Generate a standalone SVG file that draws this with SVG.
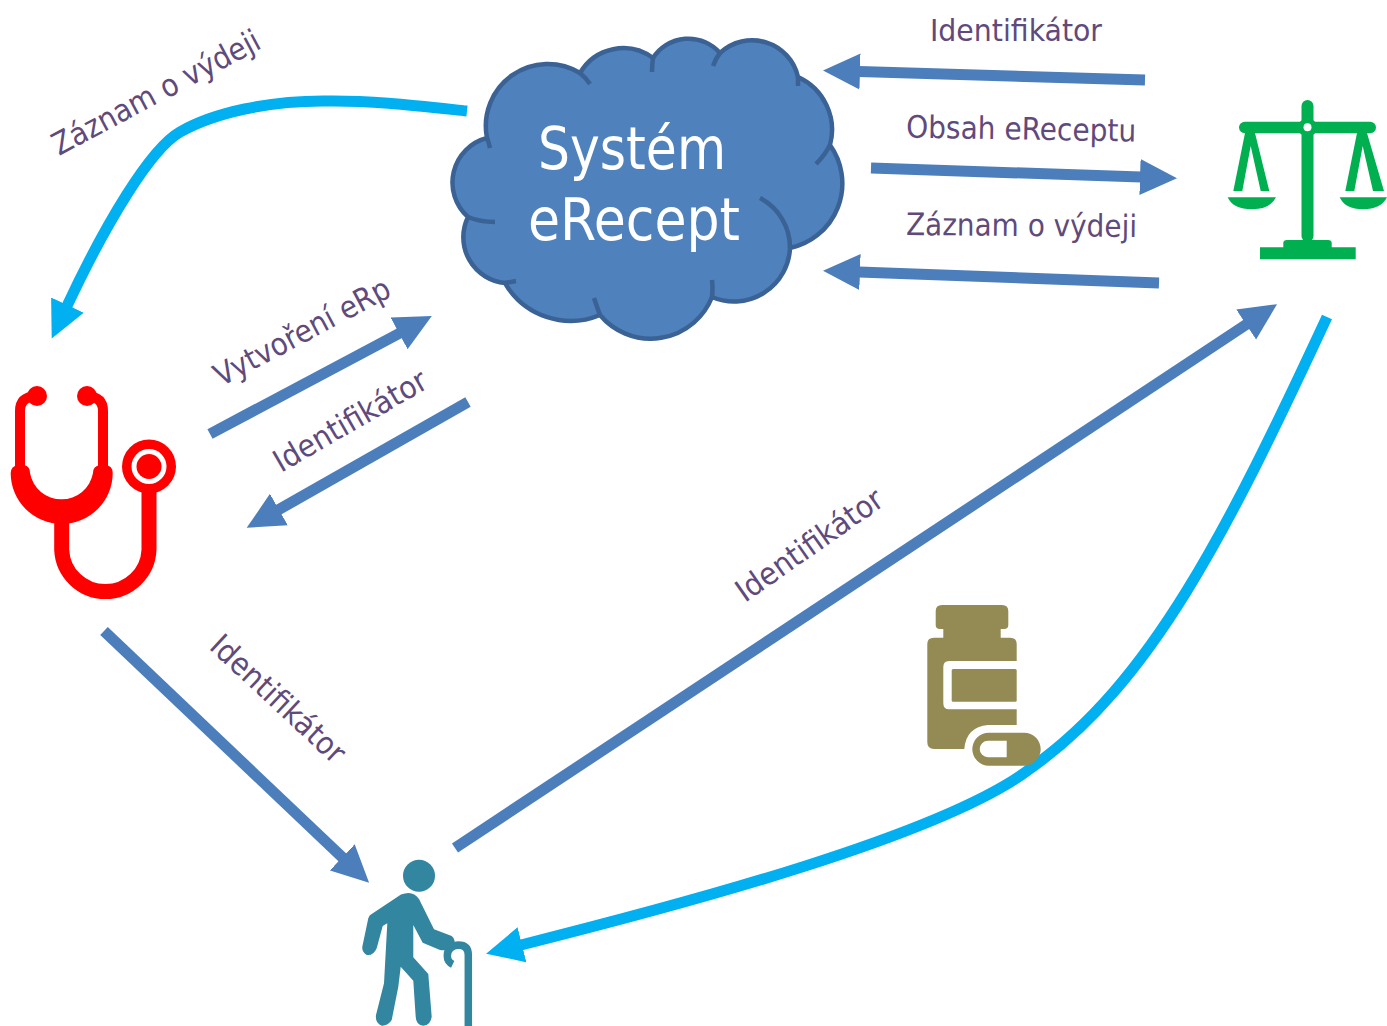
<svg xmlns="http://www.w3.org/2000/svg" width="1387" height="1026" viewBox="0 0 1387 1026">
<style>
.lb{font-family:"DejaVu Sans Condensed","DejaVu Sans",sans-serif;font-stretch:condensed;font-size:31px;fill:#604a7b}
.big{font-family:"DejaVu Sans Condensed","DejaVu Sans",sans-serif;font-stretch:condensed;font-size:58px;fill:#fff}
.ln{fill:none;stroke:#4b7ebb;stroke-width:11;marker-end:url(#hb)}
.cy{fill:none;stroke:#00b0f0;stroke-width:11;marker-end:url(#hc)}
.cl{fill:none;stroke:#3a6294;stroke-width:4.5}
</style>
<defs>
<marker id="hb" markerUnits="userSpaceOnUse" markerWidth="38" markerHeight="38" refX="1" refY="19" orient="auto"><path d="M0,1 L37,19 L0,37Z" fill="#4b7ebb"/></marker>
<marker id="hc" markerUnits="userSpaceOnUse" markerWidth="38" markerHeight="38" refX="1" refY="19" orient="auto"><path d="M0,1 L37,19 L0,37Z" fill="#00b0f0"/></marker>
</defs>
<rect width="1387" height="1026" fill="#fff"/>
<g id="connectors">
<path class="ln" d="M1145,80 L859,71.500"/>
<path class="ln" d="M871,168 L1141,177"/>
<path class="ln" d="M1159,283 L859,272"/>
<path class="ln" d="M210,434 L400,333"/>
<path class="ln" d="M468,402 L278,510"/>
<path class="ln" d="M104,631 L343,858"/>
<path class="ln" d="M455,848 L1247,324"/>
<path class="cy" d="M467,111 C420,106 370,100 323,101 C270,101 215,112 180,132 C150,149 105,225 67,306"/>
<path class="cy" d="M1327,317 C1227,532 1151,683 1031,768 C945,835 680,905 521,945"/>
</g>
<g id="cloud">
<path d="M487,138 A62,62 0 0 1 580,73 A50,50 0 0 1 653,58 A42,42 0 0 1 720,53 A47,47 0 0 1 798,77 A58,58 0 0 1 830,145 A66,66 0 0 1 790,248 A56,56 0 0 1 712,297 A66,66 0 0 1 600,315 A76,76 0 0 1 505,283 A46,46 0 0 1 468,217 A46,46 0 0 1 487,138Z" fill="#4f81bd" stroke="#3a6294" stroke-width="4.5"/>
<path class="cl" d="M487,138 Q489,143 490,148 M468,217 Q480,222 495,222 M505,283 L516,281 M600,315 Q597,307 594,298 M712,297 Q713,288 712,280 M790,248 A56,56 0 0 0 760,198 M830,145 Q825,155 816,164 M798,77 L798,86 M720,53 Q716,58 713,66 M653,58 Q652,65 652,72 M580,73 Q586,78 590,84"/>
<text class="big" x="538" y="169" textLength="188" lengthAdjust="spacingAndGlyphs">Systém</text>
<text class="big" x="528" y="240" textLength="212" lengthAdjust="spacingAndGlyphs">eRecept</text>
</g>
<g id="doctor" fill="#ff0000">
<path d="M20,468 V411 Q20,397 36,396 M103,468 V411 Q103,397 87,396" fill="none" stroke="#ff0000" stroke-width="10"/>
<circle cx="37" cy="396" r="10"/><circle cx="87" cy="396" r="10"/>
<path d="M10.700,473 Q11,466 18,465 H24 Q30,466 30,473 A32,32 0 0 0 93,473 Q93,466 100,465 H106 Q112.700,466 112.700,473 A51,51 0 0 1 10.700,473Z"/>
<path d="M61.700,520 V550 A43.700,43.700 0 0 0 149,550 V480" fill="none" stroke="#ff0000" stroke-width="15"/>
<circle cx="149" cy="466.500" r="27"/><circle cx="149" cy="466.500" r="17.500" fill="#fff"/><circle cx="149" cy="466.500" r="12.500"/>
</g>
<g id="law" fill="#00b050">
<rect x="1301.500" y="100" width="12" height="142" rx="6"/>
<rect x="1239" y="121.700" width="137" height="11.600" rx="5.800"/>
<path d="M1307.500,116 L1318,124 V131 L1307.500,139 L1297,131 V124Z"/>
<circle cx="1307.500" cy="127.300" r="4" fill="#fff"/>
<path d="M1245,133 H1255 L1269.300,191 H1260.700 L1250.700,146 L1242.300,191 H1233.300Z"/>
<path d="M1357,133 H1367 L1384,191 H1373 L1362.700,146 L1354.300,191 H1345.300Z"/>
<path d="M1227.700,197.300 H1276 Q1270,209.300 1252,209.300 Q1233,209.300 1227.700,197.300Z"/>
<path d="M1339.700,197.300 H1387 Q1381,209.300 1363,209.300 Q1345,209.300 1339.700,197.300Z"/>
<path d="M1283.300,247.300 V243 Q1283.300,240 1287,240 H1328 Q1331.700,240 1331.700,243 V247.300 H1355.700 V259.300 H1260 V247.300Z"/>
</g>
<g id="patient" fill="#33869f">
<circle cx="419" cy="875.700" r="16"/>
<path d="M401,894.500 Q413,890 419,899 L434,929.300 L451.700,936 Q456.700,940 453.300,945 Q450,951.700 440,950 L422.700,942.700 L413.300,925 V957.300 L428.300,974 L431.700,1016.700 Q430.700,1025 423.300,1025.700 Q416,1025 415.700,1016.700 L413.300,980.700 L400.700,966.700 L398.300,986.700 L391.700,1020 Q388,1026 381.700,1025.700 Q375,1023 376,1015 L384,983.300 L387.300,923.300 L382.700,926 L376.700,948.300 Q373.300,956 366.700,955 Q361.700,951.700 362.300,946.700 L368.300,918.300 Q369.300,915 371.700,914Z"/>
<path d="M468.300,1026 V955 Q468.300,945 458.300,945 Q447.300,946 447.300,956 Q447.300,961.700 452.700,964.300" fill="none" stroke="#33869f" stroke-width="7.500"/>
</g>
<g id="medicine">
<path fill="#948a54" d="M942,605 H1002 Q1008.300,605 1008.300,611 V625 Q1008.300,629 1004,629 H1000.700 V637.700 H1010 Q1016.700,637.700 1016.700,644 V661 H949 Q943.300,661 943.300,667 V703 Q943.300,709.300 949,709.300 H1016.700 V725 H988 Q966,727 964.300,749 H934 Q927.300,749 927.300,742 V644 Q927.300,637.700 934,637.700 H943.300 V629 H940 Q935.700,629 935.700,625 V611 Q935.700,605 942,605Z"/>
<rect x="951.700" y="669" width="65" height="32.700" rx="1.500" fill="#948a54"/>
<path fill="#948a54" fill-rule="evenodd" d="M988.800,732.700 H1024.200 A16.500,16.500 0 0 1 1024.200,765.700 H988.800 A16.500,16.500 0 0 1 988.800,732.700Z M988,740.700 A8.300,8.300 0 0 0 988,757.300 H1006.700 V740.700Z"/>
</g>
<g id="labels">
<text class="lb" x="930" y="41" textLength="172" lengthAdjust="spacingAndGlyphs">Identifikátor</text>
<text class="lb" transform="translate(906,137.500) rotate(1)" textLength="230" lengthAdjust="spacingAndGlyphs">Obsah eReceptu</text>
<text class="lb" transform="translate(906,235) rotate(0.500)" textLength="231" lengthAdjust="spacingAndGlyphs">Záznam o výdeji</text>
<text class="lb" transform="translate(59,156) rotate(-28)" textLength="231" lengthAdjust="spacingAndGlyphs">Záznam o výdeji</text>
<text class="lb" transform="translate(221,387) rotate(-28)" textLength="195" lengthAdjust="spacingAndGlyphs">Vytvoření eRp</text>
<text class="lb" transform="translate(281,473) rotate(-30)" textLength="172" lengthAdjust="spacingAndGlyphs">Identifikátor</text>
<text class="lb" transform="translate(208,648) rotate(43)" textLength="172" lengthAdjust="spacingAndGlyphs">Identifikátor</text>
<text class="lb" transform="translate(745,603) rotate(-35)" textLength="172" lengthAdjust="spacingAndGlyphs">Identifikátor</text>
</g>
</svg>
